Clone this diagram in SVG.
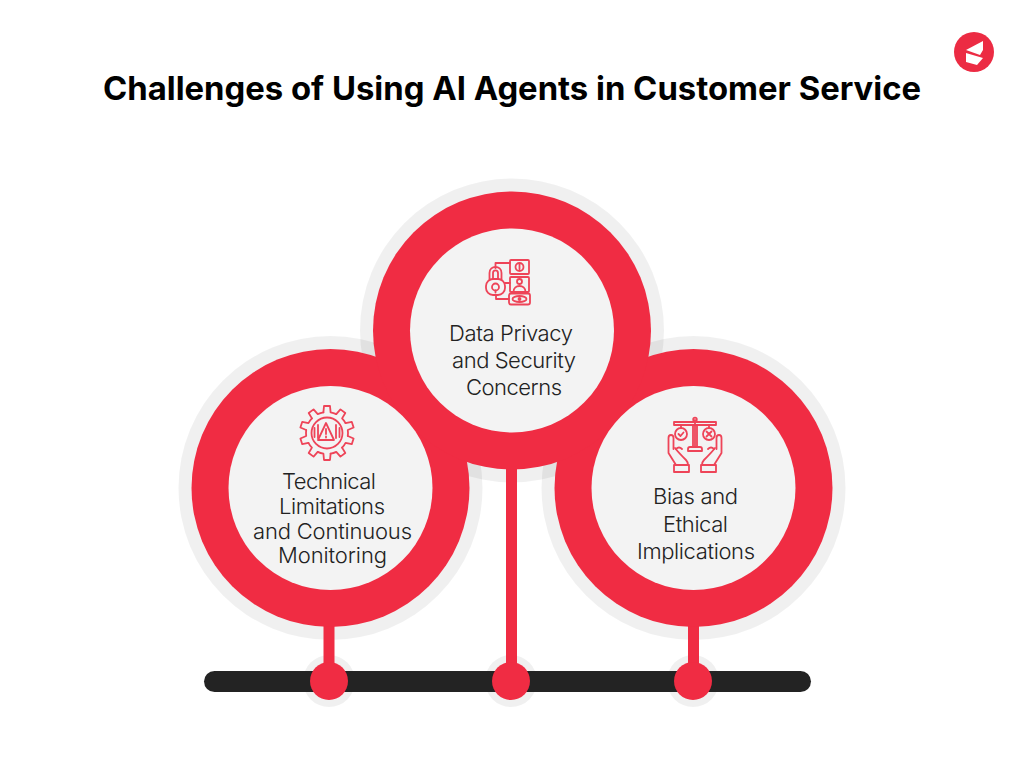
<svg xmlns="http://www.w3.org/2000/svg" xmlns:xlink="http://www.w3.org/1999/xlink" width="1024" height="775" viewBox="0 0 1024 775">
<style>
.halo{fill:#000;fill-opacity:.06}
.ring{fill:#f02c43}
.core{fill:#f3f3f3}
.lbl{font-family:"Inter","Liberation Sans",sans-serif;font-size:22px;font-weight:300;fill:#222;text-anchor:middle}
.ttl{font-family:"Inter","Liberation Sans",sans-serif;font-size:32px;font-weight:700;fill:#000;text-anchor:middle}
.ic{fill:none;stroke:#ee4458;stroke-width:1.8;stroke-linejoin:round;stroke-linecap:round}
</style>
<defs>
<path id="tooth" d="M-3.600-20.700L-3-27H3L3.600-20.700A21 21 0 0 1 9.260-18.870"/>
<g id="hand">
<path d="M676 465L668.500 453V438c0-4 5-4 5 0V449"/>
<path d="M675 448c3 4 8 9 11 12q2 2 2 5"/>
<path d="M676 449q3-3 6 0"/>
<rect x="674" y="465" width="15" height="7"/>
</g>
</defs>
<rect width="1024" height="775" fill="#fff"/>
<text class="ttl" x="512" y="100" textLength="818" lengthAdjust="spacingAndGlyphs">Challenges of Using AI Agents in Customer Service</text>
<g id="logo">
<circle cx="974" cy="52" r="20" fill="#ec2b43"/>
<path d="M983 41L966 50L980 55L983 50Z" fill="#fff"/>
<path d="M966 53L983 58L977 65L966 62Z" fill="#fff"/>
</g>
<g id="halos">
<circle class="halo" cx="330.500" cy="488" r="152"/>
<circle class="halo" cx="693.500" cy="488" r="152"/>
<circle class="halo" cx="512" cy="330.500" r="152"/>
<circle class="halo" cx="329" cy="681" r="26"/>
<circle class="halo" cx="511" cy="681" r="26"/>
<circle class="halo" cx="693" cy="681" r="26"/>
</g>
<g id="connectors">
<rect x="204" y="671" width="607" height="21" rx="10.500" fill="#232323"/>
<rect class="ring" x="323.500" y="620" width="11" height="50"/>
<rect class="ring" x="506" y="460" width="11" height="210"/>
<rect class="ring" x="688" y="620" width="11" height="50"/>
<circle class="ring" cx="329" cy="681" r="19"/>
<circle class="ring" cx="511" cy="681" r="19"/>
<circle class="ring" cx="693" cy="681" r="19"/>
</g>
<g id="rings">
<circle class="ring" cx="330.500" cy="488" r="139"/>
<circle class="ring" cx="693.500" cy="488" r="139"/>
<circle class="ring" cx="512" cy="330.500" r="139"/>
</g>
<g id="node-technical">
<circle class="core" cx="330.500" cy="488" r="102"/>
<g class="ic">
<g transform="translate(327 433)">
<use href="#tooth"/>
<use href="#tooth" transform="rotate(36)"/>
<use href="#tooth" transform="rotate(72)"/>
<use href="#tooth" transform="rotate(108)"/>
<use href="#tooth" transform="rotate(144)"/>
<use href="#tooth" transform="rotate(180)"/>
<use href="#tooth" transform="rotate(216)"/>
<use href="#tooth" transform="rotate(252)"/>
<use href="#tooth" transform="rotate(288)"/>
<use href="#tooth" transform="rotate(324)"/>
</g>
<circle cx="327" cy="433" r="15.500"/>
<path d="M326 423l8 17h-16z"/>
<path d="M326 429v5M326 436.500v1M314.500 428v9M318 425v13M336 425v13M339.500 428v9"/>
</g>
<text class="lbl" x="329" y="489" textLength="94">Technical</text>
<text class="lbl" x="332" y="514" textLength="106">Limitations</text>
<text class="lbl" x="332.500" y="539" textLength="159">and Continuous</text>
<text class="lbl" x="332.500" y="563" textLength="109">Monitoring</text>
</g>
<g id="node-bias">
<circle class="core" cx="693.500" cy="488" r="102"/>
<g class="ic">
<rect x="674" y="422" width="42" height="3"/>
<path d="M695 420v27"/>
<path d="M693 425v22h4v-22"/>
<circle cx="695" cy="419.500" r="1.800"/>
<path d="M688 451v-2q0-2 2-2h10q2 0 2 2v2z"/>
<circle cx="681" cy="434" r="6"/>
<circle cx="709" cy="434" r="6"/>
<path d="M681 425v3M709 425v3M678.500 434l2 2 3-3.500M706.500 431.500l5 5M711.500 431.500l-5 5"/>
<use href="#hand"/>
<use href="#hand" transform="matrix(-1 0 0 1 1390 0)"/>
</g>
<text class="lbl" x="695.500" y="504" textLength="85">Bias and</text>
<text class="lbl" x="695.500" y="532" textLength="65">Ethical</text>
<text class="lbl" x="696" y="559" textLength="118">Implications</text>
</g>
<g id="node-data">
<circle class="core" cx="512" cy="330.500" r="102"/>
<g class="ic">
<rect x="510" y="260" width="19" height="14" rx="1"/>
<circle cx="519.500" cy="267" r="4"/>
<path d="M519.500 264.500v5"/>
<rect x="510" y="277" width="19" height="15" rx="1"/>
<circle cx="519.500" cy="281.500" r="2.500"/>
<path d="M513.500 292c0-8 12-8 12 0"/>
<rect x="509" y="293.500" width="21" height="11" rx="2"/>
<ellipse cx="519.500" cy="299" rx="7" ry="3"/>
<circle cx="519.500" cy="299" r="1"/>
<path d="M510 263h-14.500v5M505 283h5M509 299h-13v-4"/>
<rect x="486" y="279" width="19" height="16" rx="7"/>
<path d="M489.500 280v-7c0-8 12-8 12 0v7M493 279v-6c0-3.500 5-3.500 5 0v6"/>
<circle cx="495.500" cy="287" r="3.500"/>
<path d="M495.500 290.500v2"/>
</g>
<text class="lbl" x="511" y="341" textLength="124">Data Privacy</text>
<text class="lbl" x="514" y="368" textLength="124">and Security</text>
<text class="lbl" x="514" y="395" textLength="96">Concerns</text>
</g>
</svg>
